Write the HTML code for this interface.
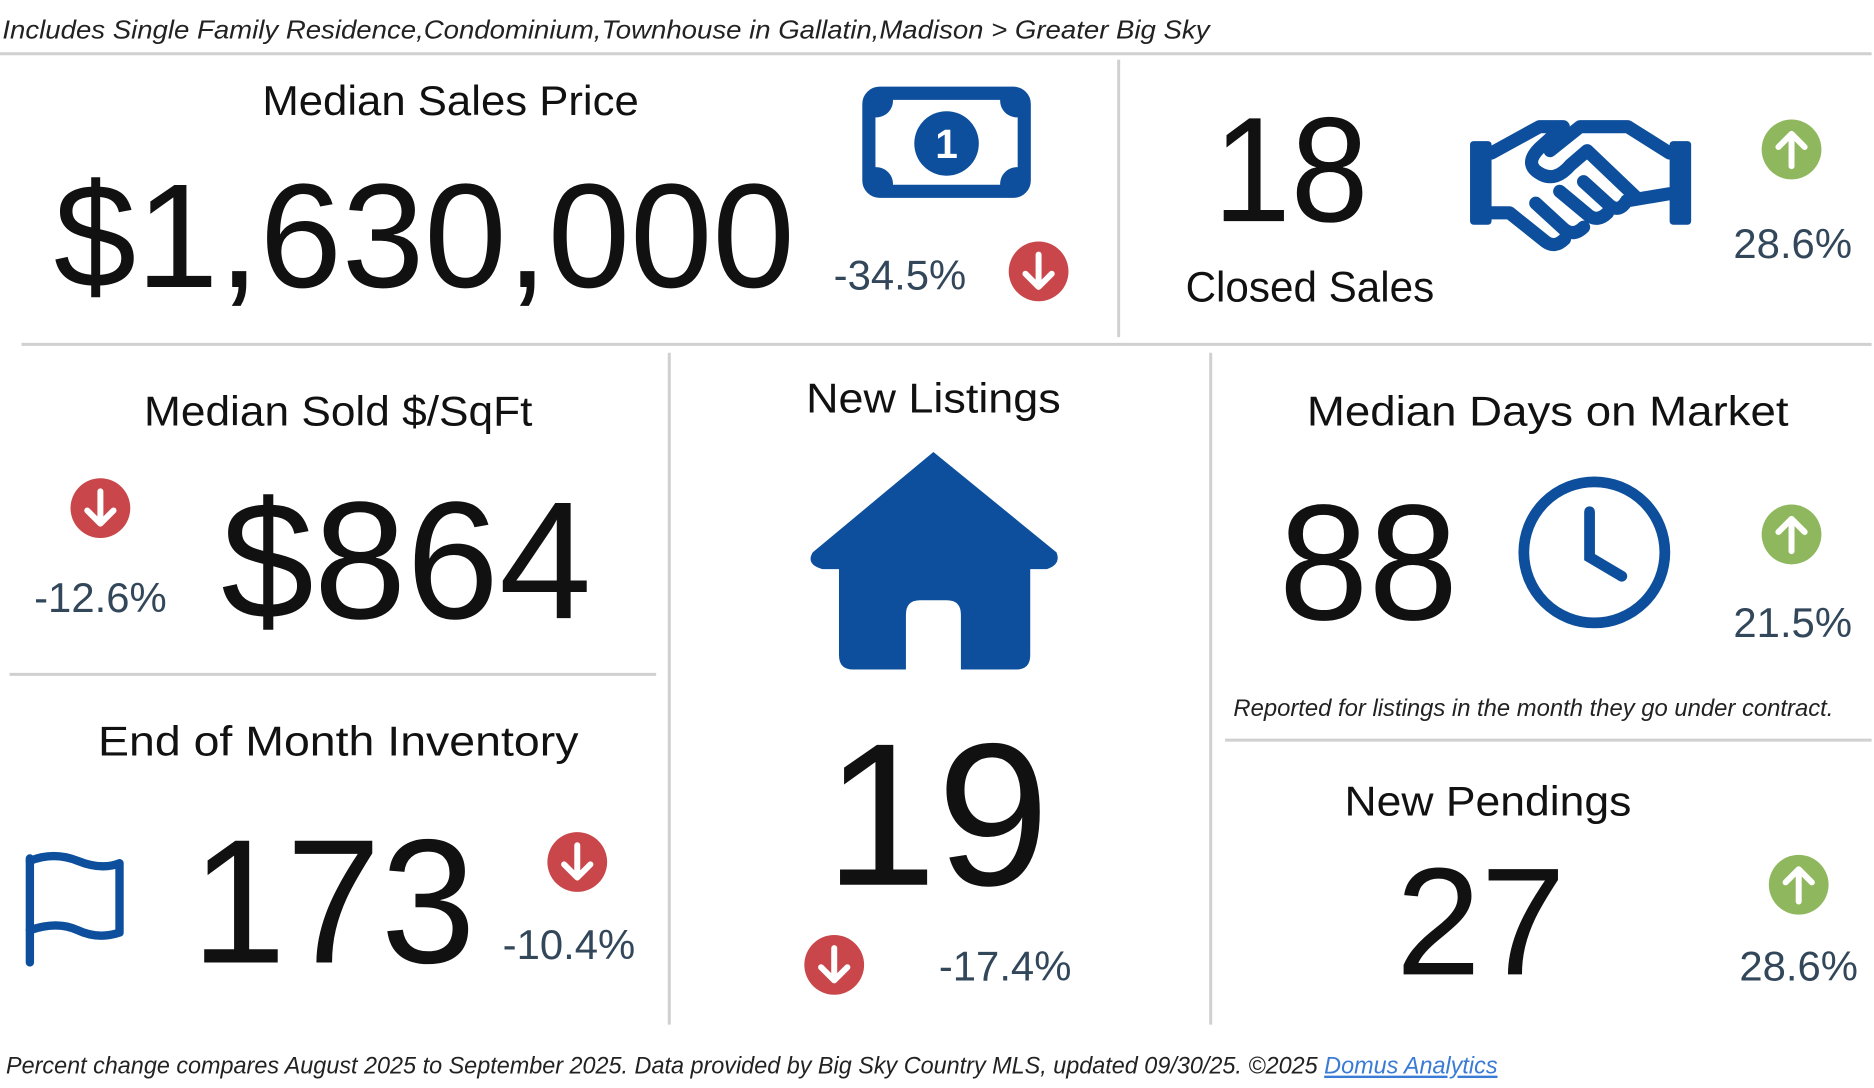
<!DOCTYPE html>
<html><head><meta charset="utf-8"><style>
html,body{margin:0;padding:0;background:#fff;}
svg{display:block;}
text{font-family:"Liberation Sans",Arial,sans-serif;}
.t{font-size:35px;fill:#111;text-anchor:middle;}
.big{fill:#111;}
.pct{font-size:35px;fill:#33475b;text-anchor:middle;}
.ln{stroke:#d0d0d0;stroke-width:2.5;}
</style></head><body>
<svg width="1874" height="1088" viewBox="0 0 1568 910" preserveAspectRatio="none">
<text x="2" y="32" font-size="22" font-style="italic" fill="#222" textLength="1010" lengthAdjust="spacingAndGlyphs">Includes Single Family Residence,Condominium,Townhouse in Gallatin,Madison &gt; Greater Big Sky</text>
<line class="ln" x1="0" y1="45" x2="1566" y2="45"/>
<line class="ln" x1="936" y1="50" x2="936" y2="282"/>
<line class="ln" x1="18" y1="288" x2="1566" y2="288"/>
<line class="ln" x1="560" y1="295" x2="560" y2="857"/>
<line class="ln" x1="1013" y1="295" x2="1013" y2="857"/>
<line class="ln" x1="8" y1="564" x2="549" y2="564"/>
<line class="ln" x1="1025" y1="619" x2="1566" y2="619"/>

<g>
<text class="t" x="377" y="96" textLength="315" lengthAdjust="spacingAndGlyphs">Median Sales Price</text>
<text class="big" x="45" y="240" font-size="124" textLength="620" lengthAdjust="spacingAndGlyphs">$1,630,000</text>
<g>
<rect x="727" y="78" width="130" height="82" rx="9" fill="none" stroke="#0d4f9c" stroke-width="11"/>
<path d="M731 82 h16 a14 14 0 0 1 -16 16z M853 82 h-16 a14 14 0 0 0 16 16z M731 156 h16 a14 14 0 0 0 -16 -16z M853 156 h-16 a14 14 0 0 1 16 -16z" fill="#0d4f9c"/>
<circle cx="792" cy="120" r="27" fill="#0d4f9c"/>
<text x="792" y="132" font-size="34" font-weight="bold" fill="#fff" text-anchor="middle">1</text>
</g>
<text class="pct" x="753" y="242">-34.5%</text>
<g><circle cx="869" cy="227" r="25" fill="#c9474a"/><path d="M869 213 v26 M858 229 l11 11 l11 -11" stroke="#fff" stroke-width="5" fill="none" stroke-linecap="round" stroke-linejoin="round"/></g>
</g>

<g>
<text class="big" x="1015" y="185" font-size="125" textLength="130" lengthAdjust="spacingAndGlyphs">18</text>
<text x="1096" y="252" font-size="36" fill="#111" text-anchor="middle" textLength="208" lengthAdjust="spacingAndGlyphs">Closed Sales</text>
<g fill="none" stroke="#0d4f9c" stroke-width="11" stroke-linejoin="round" stroke-linecap="round">
<rect x="1230" y="118" width="18" height="70" fill="#0d4f9c" stroke="none" rx="3"/>
<rect x="1397" y="118" width="18" height="70" fill="#0d4f9c" stroke="none" rx="3"/>
<path d="M1248 128 l40 -22 h20 l-20 18 q-14 14 2 22 q12 6 24 -8 l14 -12 l42 40"/>
<path d="M1397 128 l-35 -22 h-40 l-25 20"/>
<path d="M1248 178 l15 0 l30 24 q8 6 16 -2 M1285 170 l24 22 q8 6 16 -2 M1305 160 l24 20 q8 6 16 -2 M1325 152 l22 20 q8 6 14 -4 l36 -6"/>
</g>
<g><circle cx="1499" cy="125" r="25" fill="#8fb85e"/><path d="M1499 139 v-26 M1488 123 l11 -11 l11 11" stroke="#fff" stroke-width="5" fill="none" stroke-linecap="round" stroke-linejoin="round"/></g>
<text class="pct" x="1500" y="216">28.6%</text>
</g>

<g>
<text class="t" x="283" y="356" textLength="325" lengthAdjust="spacingAndGlyphs">Median Sold $/SqFt</text>
<g><circle cx="84" cy="425" r="25" fill="#c9474a"/><path d="M84 411 v26 M73 427 l11 11 l11 -11" stroke="#fff" stroke-width="5" fill="none" stroke-linecap="round" stroke-linejoin="round"/></g>
<text class="pct" x="84" y="512">-12.6%</text>
<text class="big" x="185" y="517" font-size="140" textLength="310" lengthAdjust="spacingAndGlyphs">$864</text>
</g>

<g>
<text class="t" x="283" y="632" textLength="402" lengthAdjust="spacingAndGlyphs">End of Month Inventory</text>
<g fill="none" stroke="#0d4f9c" stroke-width="7" stroke-linejoin="round" stroke-linecap="round">
<path d="M25 805 V718"/>
<path d="M25 720 q20 -8 40 0 t35 2 v58 q-18 6 -35 -2 t-40 0"/>
</g>
<text class="big" x="160" y="805" font-size="148" textLength="238" lengthAdjust="spacingAndGlyphs">173</text>
<g><circle cx="483" cy="721" r="25" fill="#c9474a"/><path d="M483 707 v26 M472 723 l11 11 l11 -11" stroke="#fff" stroke-width="5" fill="none" stroke-linecap="round" stroke-linejoin="round"/></g>
<text class="pct" x="476" y="802">-10.4%</text>
</g>

<g>
<text class="t" x="781" y="345" textLength="213" lengthAdjust="spacingAndGlyphs">New Listings</text>
<g fill="#0d4f9c">
<path d="M781 378 L884 462 Q888 472 876 476 L862 476 L862 548 Q862 560 850 560 L714 560 Q702 560 702 548 L702 476 L688 476 Q674 472 680 462 Z"/>
<path d="M758 560 V514 Q758 502 770 502 H792 Q804 502 804 514 V560 Z" fill="#fff"/>
</g>
<text class="big" x="690" y="740" font-size="170" textLength="188" lengthAdjust="spacingAndGlyphs">19</text>
<g><circle cx="698" cy="807" r="25" fill="#c9474a"/><path d="M698 793 v26 M687 809 l11 11 l11 -11" stroke="#fff" stroke-width="5" fill="none" stroke-linecap="round" stroke-linejoin="round"/></g>
<text class="pct" x="841" y="820">-17.4%</text>
</g>

<g>
<text class="t" x="1295" y="356" textLength="403" lengthAdjust="spacingAndGlyphs">Median Days on Market</text>
<text class="big" x="1070" y="518" font-size="138" textLength="150" lengthAdjust="spacingAndGlyphs">88</text>
<g fill="none" stroke="#0d4f9c" stroke-width="9" stroke-linecap="round">
<circle cx="1334" cy="462" r="59"/>
<path d="M1330 428 V466 L1357 482"/>
</g>
<g><circle cx="1499" cy="447" r="25" fill="#8fb85e"/><path d="M1499 461 v-26 M1488 445 l11 -11 l11 11" stroke="#fff" stroke-width="5" fill="none" stroke-linecap="round" stroke-linejoin="round"/></g>
<text class="pct" x="1500" y="533">21.5%</text>
<text x="1283" y="599" font-size="20" font-style="italic" fill="#222" text-anchor="middle" textLength="502" lengthAdjust="spacingAndGlyphs">Reported for listings in the month they go under contract.</text>
</g>

<g>
<text class="t" x="1245" y="682" textLength="240" lengthAdjust="spacingAndGlyphs">New Pendings</text>
<text class="big" x="1168" y="815" font-size="128" textLength="142" lengthAdjust="spacingAndGlyphs">27</text>
<g><circle cx="1505" cy="740" r="25" fill="#8fb85e"/><path d="M1505 754 v-26 M1494 738 l11 -11 l11 11" stroke="#fff" stroke-width="5" fill="none" stroke-linecap="round" stroke-linejoin="round"/></g>
<text class="pct" x="1505" y="820">28.6%</text>
</g>

<text x="5" y="898" font-size="20" font-style="italic" fill="#222" textLength="1248" lengthAdjust="spacingAndGlyphs">Percent change compares August 2025 to September 2025.  Data provided by Big Sky Country MLS, updated 09/30/25. ©2025 <tspan fill="#3a7bd5" text-decoration="underline">Domus Analytics</tspan></text>
</svg>
</body></html>
